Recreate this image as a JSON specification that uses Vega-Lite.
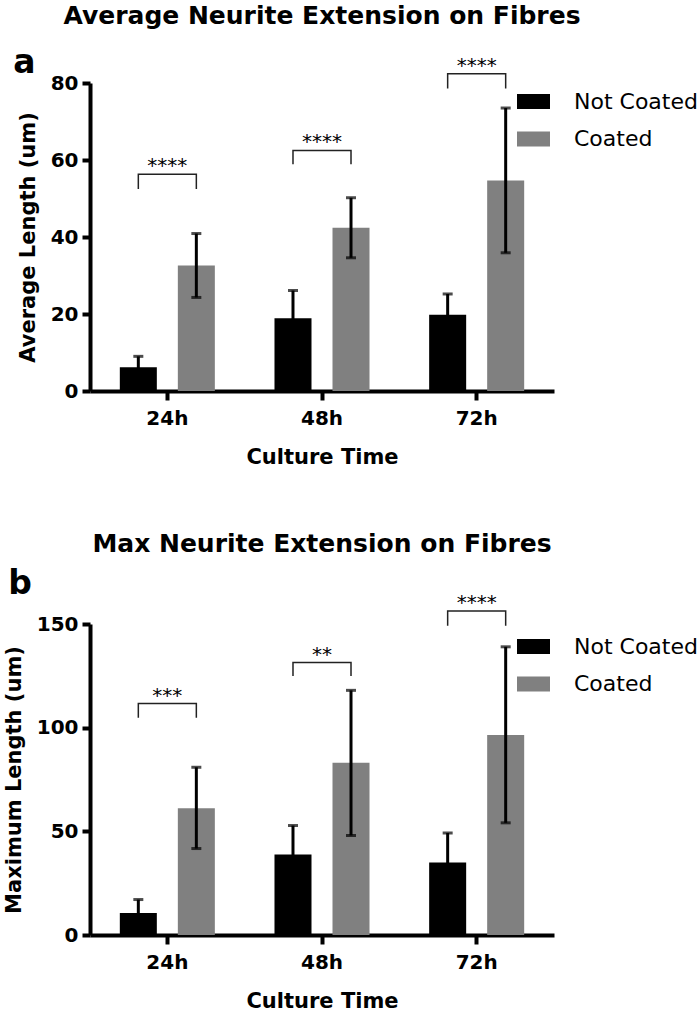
{
  "$schema": "https://vega.github.io/schema/vega-lite/v6.json",
  "background": "white",
  "padding": {"left": 3, "top": 3, "right": 2, "bottom": 5},
  "config": {
    "font": "DejaVu Sans",
    "view": {"stroke": null},
    "axis": {"domainColor": "black", "domainWidth": 4, "tickColor": "black", "tickWidth": 4, "labelFont": "DejaVu Sans", "labelFontWeight": "bold", "labelFontSize": 20, "labelColor": "black", "titleFont": "DejaVu Sans", "titleFontWeight": "bold", "titleFontSize": 21, "titleColor": "black", "grid": false},
    "title": {"font": "DejaVu Sans", "fontWeight": "bold", "color": "black"},
    "legend": {"orient": "none", "symbolType": "M-1,-0.45H1V0.45H-1Z", "symbolSize": 1089, "symbolStrokeWidth": 0, "symbolOpacity": 1, "labelFont": "DejaVu Sans", "labelFontSize": 22, "labelColor": "black", "labelOffset": 24, "rowPadding": 9.5, "padding": 0}
  },
  "datasets": {
    "barsA": [
      {"time": "24h", "group": "Not Coated", "mean": 6.2, "lo": 3.3, "hi": 9.0},
      {"time": "24h", "group": "Coated", "mean": 32.6, "lo": 24.3, "hi": 40.9},
      {"time": "48h", "group": "Not Coated", "mean": 18.9, "lo": 11.6, "hi": 26.1},
      {"time": "48h", "group": "Coated", "mean": 42.4, "lo": 34.6, "hi": 50.2},
      {"time": "72h", "group": "Not Coated", "mean": 19.8, "lo": 14.4, "hi": 25.2},
      {"time": "72h", "group": "Coated", "mean": 54.7, "lo": 35.9, "hi": 73.5}
    ],
    "brA": [
      {"time": "24h", "group": "Not Coated", "y": 52.5, "ord": 1},
      {"time": "24h", "group": "Not Coated", "y": 56.3, "ord": 2},
      {"time": "24h", "group": "Coated", "y": 56.3, "ord": 3},
      {"time": "24h", "group": "Coated", "y": 52.5, "ord": 4},
      {"time": "48h", "group": "Not Coated", "y": 58.9, "ord": 1},
      {"time": "48h", "group": "Not Coated", "y": 62.5, "ord": 2},
      {"time": "48h", "group": "Coated", "y": 62.5, "ord": 3},
      {"time": "48h", "group": "Coated", "y": 58.9, "ord": 4},
      {"time": "72h", "group": "Not Coated", "y": 78.6, "ord": 1},
      {"time": "72h", "group": "Not Coated", "y": 82.4, "ord": 2},
      {"time": "72h", "group": "Coated", "y": 82.4, "ord": 3},
      {"time": "72h", "group": "Coated", "y": 78.6, "ord": 4}
    ],
    "stA": [
      {"time": "24h", "stars": "****", "y": 56.3},
      {"time": "48h", "stars": "****", "y": 62.5},
      {"time": "72h", "stars": "****", "y": 82.4}
    ],
    "barsB": [
      {"time": "24h", "group": "Not Coated", "mean": 10.6, "lo": 4.1, "hi": 17.1},
      {"time": "24h", "group": "Coated", "mean": 61.1, "lo": 41.7, "hi": 80.9},
      {"time": "48h", "group": "Not Coated", "mean": 38.8, "lo": 24.8, "hi": 52.8},
      {"time": "48h", "group": "Coated", "mean": 83.1, "lo": 48.0, "hi": 118.0},
      {"time": "72h", "group": "Not Coated", "mean": 35.0, "lo": 20.8, "hi": 49.2},
      {"time": "72h", "group": "Coated", "mean": 96.5, "lo": 54.1, "hi": 139.0}
    ],
    "brB": [
      {"time": "24h", "group": "Not Coated", "y": 104.8, "ord": 1},
      {"time": "24h", "group": "Not Coated", "y": 111.6, "ord": 2},
      {"time": "24h", "group": "Coated", "y": 111.6, "ord": 3},
      {"time": "24h", "group": "Coated", "y": 104.8, "ord": 4},
      {"time": "48h", "group": "Not Coated", "y": 124.9, "ord": 1},
      {"time": "48h", "group": "Not Coated", "y": 131.4, "ord": 2},
      {"time": "48h", "group": "Coated", "y": 131.4, "ord": 3},
      {"time": "48h", "group": "Coated", "y": 124.9, "ord": 4},
      {"time": "72h", "group": "Not Coated", "y": 149.2, "ord": 1},
      {"time": "72h", "group": "Not Coated", "y": 156.3, "ord": 2},
      {"time": "72h", "group": "Coated", "y": 156.3, "ord": 3},
      {"time": "72h", "group": "Coated", "y": 149.2, "ord": 4}
    ],
    "stB": [
      {"time": "24h", "stars": "***", "y": 111.6},
      {"time": "48h", "stars": "**", "y": 131.4},
      {"time": "72h", "stars": "****", "y": 156.3}
    ]
  },
  "resolve": {"scale": {"color": "independent"}},
  "spacing": 64,
  "vconcat": [
    {
      "title": {"text": "a", "anchor": "start", "frame": "bounds", "fontSize": 33, "offset": -76, "dx": -4},
      "resolve": {"scale": {"color": "independent"}},
      "vconcat": [
        {
          "title": {"text": "Average Neurite Extension on Fibres", "anchor": "middle", "frame": "group", "fontSize": 25, "offset": 27},
          "width": 464,
          "height": 308,
          "layer": [
            {
              "data": {"name": "barsA"},
              "mark": {"type": "bar"},
              "encoding": {
                "x": {"field": "time", "type": "nominal", "scale": {"paddingInner": 0, "paddingOuter": 0}, "axis": {"title": "Culture Time", "labelAngle": 0, "tickSize": 9, "labelPadding": 8, "titlePadding": 18}},
                "xOffset": {"field": "group", "type": "nominal", "scale": {"domain": ["Not Coated", "Coated"], "paddingInner": 0.362, "paddingOuter": 0.514}},
                "y": {"field": "mean", "type": "quantitative", "title": "Average Length (um)", "scale": {"domain": [0, 80], "nice": false}, "axis": {"values": [0, 20, 40, 60, 80], "tickSize": 8, "labelPadding": 4, "titlePadding": 12}},
                "color": {"field": "group", "type": "nominal", "scale": {"domain": ["Not Coated", "Coated"], "range": ["#000000", "#808080"]}, "legend": {"title": null, "legendX": 427, "legendY": 2}}
              }
            },
            {
              "data": {"name": "barsA"},
              "mark": {"type": "rule", "color": "black", "strokeWidth": 3},
              "encoding": {
                "x": {"field": "time", "type": "nominal"},
                "xOffset": {"field": "group", "type": "nominal"},
                "y": {"field": "lo", "type": "quantitative", "title": "Average Length (um)"},
                "y2": {"field": "hi"}
              }
            },
            {
              "data": {"name": "barsA"},
              "mark": {"type": "tick", "color": "black", "thickness": 3, "size": 10},
              "encoding": {
                "x": {"field": "time", "type": "nominal"},
                "xOffset": {"field": "group", "type": "nominal"},
                "y": {"field": "hi", "type": "quantitative", "title": "Average Length (um)"}
              }
            },
            {
              "data": {"name": "barsA"},
              "mark": {"type": "tick", "color": "black", "thickness": 3, "size": 10},
              "encoding": {
                "x": {"field": "time", "type": "nominal"},
                "xOffset": {"field": "group", "type": "nominal"},
                "y": {"field": "lo", "type": "quantitative", "title": "Average Length (um)"}
              }
            },
            {
              "data": {"name": "brA"},
              "mark": {"type": "line", "color": "#222222", "strokeWidth": 1.5},
              "encoding": {
                "x": {"field": "time", "type": "nominal"},
                "xOffset": {"field": "group", "type": "nominal"},
                "y": {"field": "y", "type": "quantitative", "title": "Average Length (um)"},
                "detail": {"field": "time", "type": "nominal"},
                "order": {"field": "ord", "type": "quantitative"}
              }
            },
            {
              "data": {"name": "stA"},
              "mark": {"type": "text", "fontSize": 20, "baseline": "alphabetic", "dy": -2, "color": "black", "font": "DejaVu Sans"},
              "encoding": {
                "x": {"field": "time", "type": "nominal"},
                "y": {"field": "y", "type": "quantitative", "title": "Average Length (um)"},
                "text": {"field": "stars"}
              }
            }
          ]
        }
      ]
    },
    {
      "title": {"text": "b", "anchor": "start", "frame": "bounds", "fontSize": 33, "offset": -69, "dx": 5},
      "resolve": {"scale": {"color": "independent"}},
      "vconcat": [
        {
          "title": {"text": "Max Neurite Extension on Fibres", "anchor": "middle", "frame": "group", "fontSize": 25, "offset": 36},
          "width": 464,
          "height": 311,
          "layer": [
            {
              "data": {"name": "barsB"},
              "mark": {"type": "bar"},
              "encoding": {
                "x": {"field": "time", "type": "nominal", "scale": {"paddingInner": 0, "paddingOuter": 0}, "axis": {"title": "Culture Time", "labelAngle": 0, "tickSize": 9, "labelPadding": 8, "titlePadding": 18}},
                "xOffset": {"field": "group", "type": "nominal", "scale": {"domain": ["Not Coated", "Coated"], "paddingInner": 0.362, "paddingOuter": 0.514}},
                "y": {"field": "mean", "type": "quantitative", "title": "Maximum Length (um)", "scale": {"domain": [0, 150], "nice": false}, "axis": {"values": [0, 50, 100, 150], "tickSize": 8, "labelPadding": 4, "titlePadding": 12}},
                "color": {"field": "group", "type": "nominal", "scale": {"domain": ["Not Coated", "Coated"], "range": ["#000000", "#808080"]}, "legend": {"title": null, "legendX": 427, "legendY": 6}}
              }
            },
            {
              "data": {"name": "barsB"},
              "mark": {"type": "rule", "color": "black", "strokeWidth": 3},
              "encoding": {
                "x": {"field": "time", "type": "nominal"},
                "xOffset": {"field": "group", "type": "nominal"},
                "y": {"field": "lo", "type": "quantitative", "title": "Maximum Length (um)"},
                "y2": {"field": "hi"}
              }
            },
            {
              "data": {"name": "barsB"},
              "mark": {"type": "tick", "color": "black", "thickness": 3, "size": 10},
              "encoding": {
                "x": {"field": "time", "type": "nominal"},
                "xOffset": {"field": "group", "type": "nominal"},
                "y": {"field": "hi", "type": "quantitative", "title": "Maximum Length (um)"}
              }
            },
            {
              "data": {"name": "barsB"},
              "mark": {"type": "tick", "color": "black", "thickness": 3, "size": 10},
              "encoding": {
                "x": {"field": "time", "type": "nominal"},
                "xOffset": {"field": "group", "type": "nominal"},
                "y": {"field": "lo", "type": "quantitative", "title": "Maximum Length (um)"}
              }
            },
            {
              "data": {"name": "brB"},
              "mark": {"type": "line", "color": "#222222", "strokeWidth": 1.5},
              "encoding": {
                "x": {"field": "time", "type": "nominal"},
                "xOffset": {"field": "group", "type": "nominal"},
                "y": {"field": "y", "type": "quantitative", "title": "Maximum Length (um)"},
                "detail": {"field": "time", "type": "nominal"},
                "order": {"field": "ord", "type": "quantitative"}
              }
            },
            {
              "data": {"name": "stB"},
              "mark": {"type": "text", "fontSize": 20, "baseline": "alphabetic", "dy": -2, "color": "black", "font": "DejaVu Sans"},
              "encoding": {
                "x": {"field": "time", "type": "nominal"},
                "y": {"field": "y", "type": "quantitative", "title": "Maximum Length (um)"},
                "text": {"field": "stars"}
              }
            }
          ]
        }
      ]
    }
  ]
}
